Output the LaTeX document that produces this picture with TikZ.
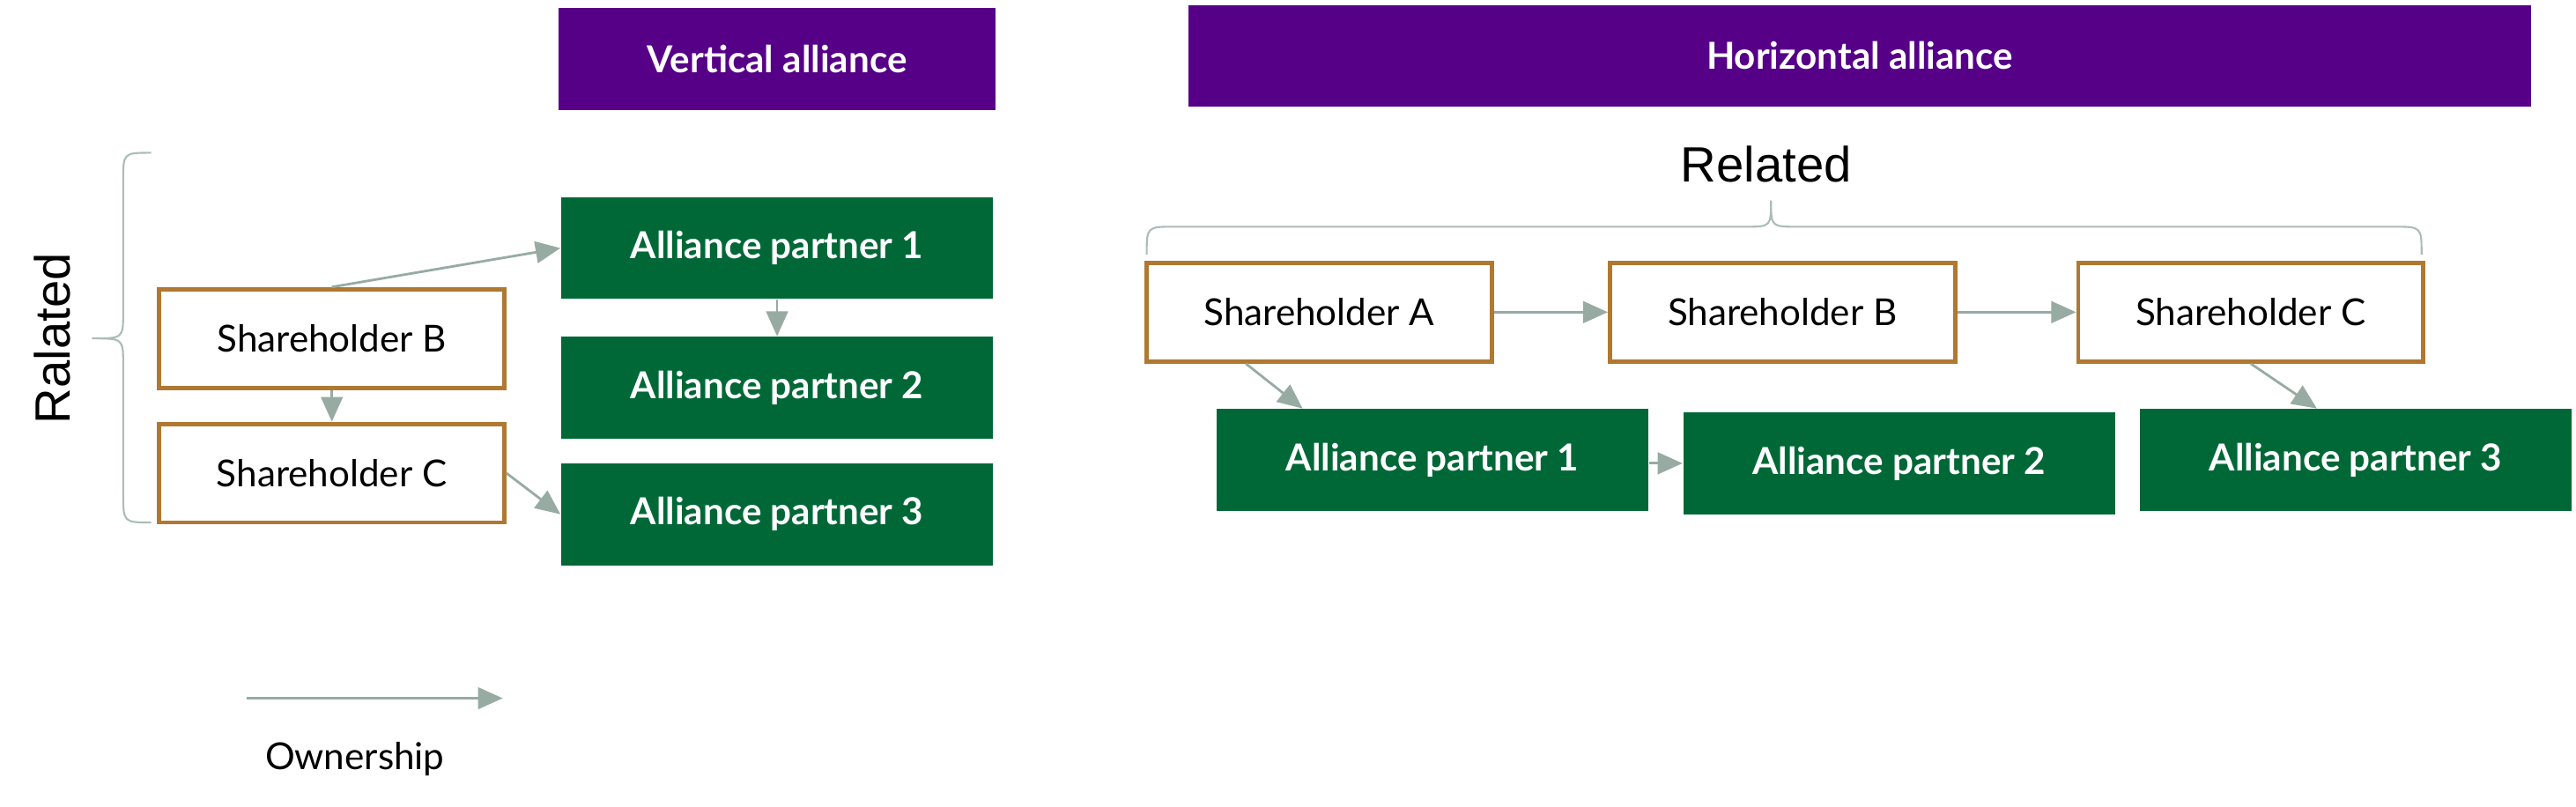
\documentclass[tikz,border=0pt]{standalone}
\usepackage{fontspec}
\setmainfont{Lato}
\usetikzlibrary{calc,arrows.meta}
\definecolor{hdpurple}{HTML}{560088}
\definecolor{apgreen}{HTML}{006837}
\definecolor{shbrown}{HTML}{B07830}
\definecolor{owngray}{HTML}{97ABA3}
\def\u{0.018648cm}

\begin{document}
\begin{tikzpicture}[x=\u,y=-\u,
  hdr/.style={fill=hdpurple,text=white,font=\bfseries\fontsize{12}{14}\selectfont,minimum height=62*\u,inner sep=0pt},
  ap/.style={fill=apgreen,text=white,font=\bfseries\fontsize{12}{14}\selectfont,minimum width=263*\u,minimum height=62*\u,inner sep=0pt},
  sh/.style={draw=shbrown,line width=1.4pt,fill=white,font=\fontsize{12}{14}\selectfont,minimum width=210*\u,minimum height=60*\u,inner sep=0pt},
  own/.style={draw=owngray,line width=0.8pt,-{Triangle[length=8pt,width=7pt]}},
  brc/.style={draw=owngray!80,line width=0.6pt}]
\useasboundingbox (0,0) rectangle (1568,491);
% headers
\node[hdr,minimum width=266*\u] (hv) at (473,36) {Vertical alliance};
\node[hdr,minimum width=817*\u] (hh) at (1132,34) {Horizontal alliance};
% vertical alliance
\node[sh] (vb) at (202,206) {Shareholder B};
\node[sh] (vc) at (202,288) {Shareholder C};
\node[ap] (va1) at (473,151) {Alliance partner 1};
\node[ap] (va2) at (473,236) {Alliance partner 2};
\node[ap] (va3) at (473,313) {Alliance partner 3};
\draw[own] (vb.north) -- (va1.west);
\draw[own] (va1.south) -- (va2.north);
\draw[own] (vb.south) -- (vc.north);
\draw[own] (vc.east) -- (va3.west);
\draw[brc] (92,93) .. controls (75,93) .. (75,110) -- (75,190)
  .. controls (75,206) .. (56,206) .. controls (75,206) .. (75,222)
  -- (75,300) .. controls (75,318) .. (92,318);
\node[rotate=90,font=\fontspec{Liberation Sans}\fontsize{16}{18}\selectfont] (rl) at (32,206) {Ralated};
% legend
\coordinate (o1) at (150,425);
\coordinate (o2) at (306,425);
\draw[own] (o1) -- (o2);
\node[font=\fontsize{12}{14}\selectfont] (ol) at (216,462) {Ownership};
% horizontal alliance
\node[sh] (ha) at (803,190) {Shareholder A};
\node[sh] (hb) at (1085,190) {Shareholder B};
\node[sh] (hc) at (1370,190) {Shareholder C};
\node[ap] (ha1) at (872,280) {Alliance partner 1};
\node[ap] (ha2) at (1156,282) {Alliance partner 2};
\node[ap] (ha3) at (1434,280) {Alliance partner 3};
\draw[own] (ha.east) -- (hb.west);
\draw[own] (hb.east) -- (hc.west);
\draw[own] ($(ha.south west)!0.29!(ha.south east)$) -- ($(ha1.north west)!0.2!(ha1.north east)$);
\draw[own] (ha1.east |- ha2.west) -- (ha2.west);
\draw[own] (hc.south) -- ($(ha3.north west)!0.41!(ha3.north east)$);
\draw[brc] (698,155) .. controls (698,138) .. (715,138) -- (1062,138)
  .. controls (1078,138) .. (1078,122) .. controls (1078,138) .. (1094,138)
  -- (1457,138) .. controls (1474,138) .. (1474,155);
\node[font=\fontspec{Liberation Sans}\fontsize{16}{18}\selectfont] (hr) at (1075,100) {Related};
\end{tikzpicture}
\end{document}
